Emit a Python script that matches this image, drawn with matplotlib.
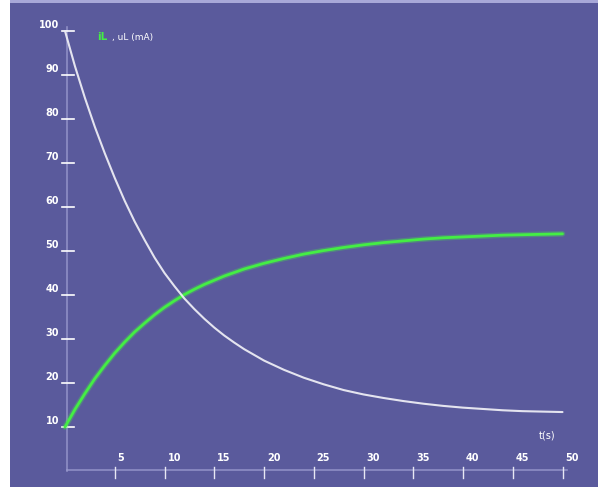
import matplotlib
matplotlib.use("Agg")
import matplotlib.pyplot as plt
from matplotlib.patches import Rectangle

# --- data ---
t_u = [0, 1, 2, 3, 4, 5, 6, 7, 8, 9, 10, 11, 12, 13, 14, 15, 16, 17, 18, 20,
       22, 24, 26, 28, 30, 32, 34, 36, 38, 40, 42, 44, 46, 48, 50]
u_vals = [100, 92, 84.8, 78.2, 72.2, 66.6, 61.4, 56.7, 52.5, 48.5, 45, 42,
          39.2, 36.8, 34.6, 32.6, 30.8, 29.2, 27.7, 25.1, 23, 21.2, 19.7,
          18.4, 17.4, 16.6, 15.9, 15.3, 14.8, 14.4, 14.1, 13.8, 13.6, 13.5,
          13.4]

t_i = [0, 1, 2, 3, 4, 5, 6, 7, 8, 9, 10, 11, 12, 13, 14, 16, 18, 20, 22, 24,
       26, 28, 30, 32, 34, 36, 38, 40, 42, 44, 46, 48, 50]
i_vals = [10, 14, 17.6, 21, 24, 26.8, 29.3, 31.6, 33.6, 35.5, 37.2, 38.7,
          40.1, 41.3, 42.4, 44.3, 45.9, 47.2, 48.3, 49.3, 50.1, 50.8, 51.4,
          51.9, 52.3, 52.7, 53, 53.2, 53.4, 53.6, 53.7, 53.8, 53.9]

y_ticks = [10, 20, 30, 40, 50, 60, 70, 80, 90, 100]
y_labels = ["10", "20", "30", "40", "50", "60", "70", "80", "90", "100"]
x_ticks = [5, 10, 15, 20, 25, 30, 35, 40, 45, 50]
x_labels = ["5", "10", "15", "20", "25", "30", "35", "40", "45", "50"]

BG = "#5a5a9c"
AXIS = "#9c9cd0"
WHITE = "#ececf4"
GREEN = "#44ee44"

fig = plt.figure(figsize=(6.05, 4.97), dpi=100, facecolor="white")
W, H = 605, 497

ax = fig.add_axes([0, 0, 1, 1])
ax.set_axis_off()
ax.patch.set_visible(False)
# pixel mapping: x = 65 + 9.95 t, y = 471 - 4.4 v
ax.set_xlim(-65 / 9.95, (W - 65) / 9.95)
ax.set_ylim((471 - H) / 4.4, 471 / 4.4)

# purple panel (drawn in axes-fraction space)
ax.add_patch(Rectangle((10 / W, (H - 487) / H), 588 / W, 484 / H,
                       transform=ax.transAxes, facecolor=BG,
                       edgecolor="none", zorder=0))
ax.add_patch(Rectangle((10 / W, (H - 3) / H), 588 / W, 3 / H,
                       transform=ax.transAxes, facecolor="#a8a8d8",
                       edgecolor="none", zorder=0))

# axes lines
ax.plot([0.2, 0.2], [0, 101], color=AXIS, lw=1.2, alpha=0.8, zorder=1)
ax.plot([0.2, 50.5], [0.3, 0.3], color=AXIS, lw=1.2, alpha=0.8, zorder=1)

# y ticks: short underline with label above-left
for v, lab in zip(y_ticks, y_labels):
    ax.plot([-0.3, 0.9], [v, v], color="white", lw=1.2, zorder=2)
    ax.text(-0.6, v + 0.2, lab, color="white", fontsize=7, fontweight="bold",
            ha="right", va="bottom")

# x ticks: vertical mark across axis, label to the right above
for t, lab in zip(x_ticks, x_labels):
    ax.plot([t, t], [1.0, -1.5], color="#e8e8f4", lw=1.0, zorder=2)
    ax.text(t + 0.3, 1.8, lab, color="white", fontsize=7, fontweight="bold",
            ha="left", va="bottom")

ax.text(47.6, 8.0, "t(s)", color="white", fontsize=7, ha="left",
        va="center")

# curves
ax.plot(t_i, i_vals, color=GREEN, lw=4.0, alpha=0.3, solid_capstyle="round", zorder=3)
ax.plot(t_i, i_vals, color=GREEN, lw=2.0, solid_capstyle="round", zorder=3)
ax.plot(t_u, u_vals, color=WHITE, lw=1.5, alpha=0.95, solid_capstyle="round", zorder=4)

# legend text
ax.text(3.2, 98.6, "iL", color=GREEN, fontsize=7.5, fontweight="bold",
        ha="left", va="center")
ax.text(4.7, 98.6, ", uL (mA)", color="white", fontsize=6.5, ha="left",
        va="center")

fig.savefig("out.png", dpi=100, facecolor="white")
